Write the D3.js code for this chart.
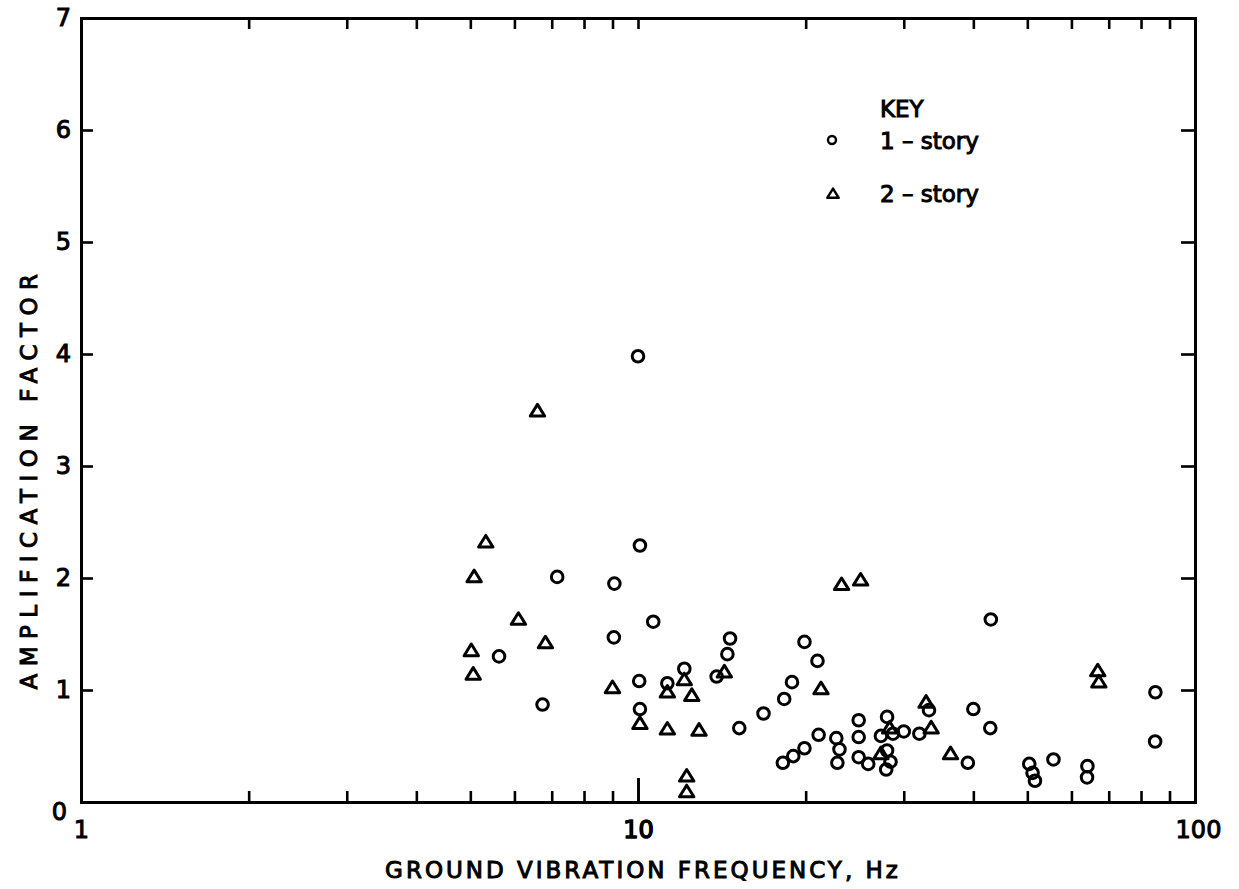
<!DOCTYPE html>
<html>
<head>
<meta charset="utf-8">
<script src="https://cdn.jsdelivr.net/npm/d3@7"></script>
<style>
  body { margin: 0; background: #fff; }
  svg text { font-family: "DejaVu Sans", sans-serif; fill: #000; stroke: #000; stroke-width: 1px; }
</style>
</head>
<body>
<div id="chart"></div>
<script>
// 1-story houses: frequency (Hz) and amplification factor
const oneStoryFreq = [10.0, 10.08, 7.16, 9.07, 10.65, 9.05, 5.63, 10.05, 6.74, 10.08,
    11.29, 12.11, 13.84, 14.47, 14.63, 15.2, 16.8, 18.3, 18.9, 18.2,
    19.0, 19.9, 21.1, 19.9, 21.0, 22.7, 23.0, 22.8, 24.9, 24.9,
    24.9, 25.9, 28.0, 27.3, 28.7, 30.0, 28.0, 28.4, 27.9, 32.0,
    33.3, 43.0, 40.0, 42.9, 39.1, 50.4, 51.1, 51.6, 55.7, 64.1,
    64.0, 84.9, 84.8];
const oneStoryAmp = [3.98, 2.29, 2.01, 1.95, 1.61, 1.47, 1.30, 1.08, 0.87, 0.83,
    1.06, 1.19, 1.12, 1.32, 1.46, 0.66, 0.79, 0.92, 1.07, 0.35,
    0.41, 0.48, 0.60, 1.43, 1.26, 0.57, 0.47, 0.35, 0.73, 0.58,
    0.40, 0.34, 0.76, 0.59, 0.61, 0.63, 0.46, 0.36, 0.29, 0.61,
    0.82, 1.63, 0.83, 0.66, 0.35, 0.34, 0.26, 0.19, 0.38, 0.32,
    0.22, 0.98, 0.54];

// 2-story houses
const twoStoryFreq = [5.33, 5.08, 6.10, 6.82, 5.02, 5.06, 6.60, 9.0, 10.08, 11.29,
    12.11, 12.49, 11.29, 12.87, 12.23, 12.23, 14.29, 21.31, 23.2, 25.1,
    32.9, 33.6, 36.4, 27.3, 66.9, 67.2, 28.3];
const twoStoryAmp = [2.33, 2.02, 1.64, 1.43, 1.36, 1.15, 3.50, 1.03, 0.71, 0.99,
    1.10, 0.96, 0.66, 0.65, 0.24, 0.10, 1.17, 1.02, 1.95, 1.99,
    0.90, 0.67, 0.44, 0.44, 1.18, 1.08, 0.67];

// axis ticks
const xTicks = [2, 3, 4, 5, 6, 7, 8, 9, 10, 20, 30, 40, 50, 60, 70, 80, 90];
const xLabels = [1, 10, 100];
const yTicks = [0, 1, 2, 3, 4, 5, 6, 7];

const W = 1239, H = 889;
const margin = { left: 81, right: 1195, top: 18, bottom: 802 };

const svg = d3.select("#chart").append("svg")
    .attr("width", W)
    .attr("height", H);

const x = d3.scaleLog().domain([1, 100]).range([margin.left, margin.right]);
const y = d3.scaleLinear().domain([0, 7]).range([margin.bottom, margin.top]);

function styleAxis(g) {
    g.select(".domain").attr("stroke", "#000").attr("stroke-width", 3).attr("stroke-linecap", "square");
    g.selectAll(".tick line").attr("stroke", "#000").attr("stroke-width", 2.6);
    g.selectAll(".tick text").attr("font-family", null).attr("font-size", null).style("font-size", "24px");
}

// bottom axis: inward ticks, labels only at decades
const xAxis = svg.append("g")
    .attr("transform", "translate(0," + margin.bottom + ")")
    .call(d3.axisBottom(x)
        .tickValues(xLabels.concat(xTicks))
        .tickSizeInner(-11)
        .tickSizeOuter(0)
        .tickPadding(19)
        .tickFormat(d => xLabels.includes(d) ? d : ""));
styleAxis(xAxis);
xAxis.selectAll(".tick").filter(d => d === 10).select("line").attr("y2", -24);
xAxis.selectAll(".tick").filter(d => d === 1 || d === 100).select("line").remove();
xAxis.selectAll(".tick").filter(d => d === 100).select("text").attr("dx", 3);

// top frame
const xTop = svg.append("g")
    .attr("transform", "translate(0," + margin.top + ")")
    .call(d3.axisTop(x)
        .tickValues(xTicks)
        .tickSizeInner(-11)
        .tickSizeOuter(0)
        .tickFormat(""));
styleAxis(xTop);

// left axis
const yAxis = svg.append("g")
    .attr("transform", "translate(" + margin.left + ",0)")
    .call(d3.axisLeft(y)
        .tickValues(yTicks)
        .tickSizeInner(-12)
        .tickSizeOuter(0)
        .tickPadding(10)
        .tickFormat(d3.format("d")));
styleAxis(yAxis);
yAxis.selectAll(".tick").filter(d => d === 0 || d === 7).select("line").remove();
yAxis.selectAll(".tick").filter(d => d === 0).select("text").attr("x", -14).attr("dy", "0.72em");

// right frame
const yRight = svg.append("g")
    .attr("transform", "translate(" + margin.right + ",0)")
    .call(d3.axisRight(y)
        .tickValues(yTicks.slice(1, 7))
        .tickSizeInner(-14)
        .tickSizeOuter(0)
        .tickFormat(""));
styleAxis(yRight);

// axis titles
svg.append("text")
    .attr("x", 643)
    .attr("y", 878)
    .attr("text-anchor", "middle")
    .style("font-size", "23px")
    .style("letter-spacing", "3px")
    .text("GROUND VIBRATION FREQUENCY, Hz");

svg.append("text")
    .attr("transform", "translate(37,478) rotate(-90)")
    .attr("text-anchor", "middle")
    .style("font-size", "23px")
    .style("letter-spacing", "7.5px")
    .text("AMPLIFICATION FACTOR");

// markers
const tri = d3.symbol().type({
    draw(ctx, size) {
        ctx.moveTo(0, -5.6);
        ctx.lineTo(7.2, 6.0);
        ctx.lineTo(-7.2, 6.0);
        ctx.closePath();
    }
});

const oneStory = oneStoryFreq.map((f, i) => ({ f: f, a: oneStoryAmp[i] }));
const twoStory = twoStoryFreq.map((f, i) => ({ f: f, a: twoStoryAmp[i] }));

svg.append("g").selectAll("circle")
    .data(oneStory)
    .join("circle")
    .attr("cx", d => x(d.f))
    .attr("cy", d => y(d.a))
    .attr("r", 5.8)
    .attr("fill", "none")
    .attr("stroke", "#000")
    .attr("stroke-width", 3);

svg.append("g").selectAll("path")
    .data(twoStory)
    .join("path")
    .attr("transform", d => "translate(" + x(d.f) + "," + y(d.a) + ")")
    .attr("d", tri())
    .attr("fill", "none")
    .attr("stroke", "#000")
    .attr("stroke-width", 3)
    .attr("stroke-linejoin", "round");

// key
const key = svg.append("g");
key.append("text").attr("x", 880).attr("y", 117).style("font-size", "23px").text("KEY");
key.append("circle")
    .attr("cx", 832).attr("cy", 140).attr("r", 4)
    .attr("fill", "none").attr("stroke", "#000").attr("stroke-width", 2.4);
key.append("text").attr("x", 880).attr("y", 149).style("font-size", "23px").text("1 – story");
key.append("path")
    .attr("transform", "translate(833,193) scale(0.8)")
    .attr("d", tri())
    .attr("fill", "none").attr("stroke", "#000").attr("stroke-width", 3)
    .attr("stroke-linejoin", "round");
key.append("text").attr("x", 880).attr("y", 202).style("font-size", "23px").text("2 – story");
</script>
</body>
</html>
